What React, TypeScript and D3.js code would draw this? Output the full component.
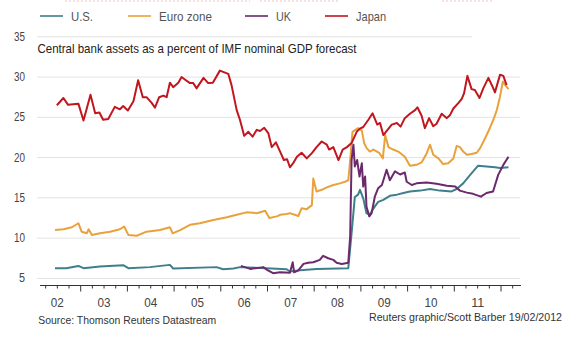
import React from "react";
import * as d3 from "d3";

// [decimal year, percent of GDP]
const japan: [number, number][] = [
  [2002.49, 26.5], [2002.63, 27.4], [2002.73, 26.55], [2002.95, 26.7], [2003.06, 24.6], [2003.21, 27.8],
  [2003.31, 25.5], [2003.4, 25.6], [2003.48, 24.7], [2003.59, 24.8], [2003.73, 26.3], [2003.84, 26.0],
  [2003.91, 26.4], [2004.01, 25.85], [2004.13, 27.0], [2004.23, 29.6], [2004.33, 27.5], [2004.41, 27.5],
  [2004.52, 26.8], [2004.59, 26.2], [2004.68, 27.5], [2004.77, 27.7], [2004.84, 27.5], [2004.91, 29.3],
  [2004.98, 28.75], [2005.09, 29.3], [2005.16, 30.0], [2005.23, 29.7], [2005.34, 29.25], [2005.41, 29.25],
  [2005.48, 28.6], [2005.63, 29.9], [2005.73, 29.25], [2005.83, 29.3], [2005.98, 30.8], [2006.16, 30.4],
  [2006.23, 29.0], [2006.34, 25.9], [2006.41, 24.7], [2006.5, 22.7], [2006.59, 23.2], [2006.68, 22.6],
  [2006.77, 23.45], [2006.84, 23.3], [2006.93, 23.7], [2007.02, 23.0], [2007.09, 21.3], [2007.18, 21.9],
  [2007.27, 20.75], [2007.35, 19.7], [2007.42, 19.8], [2007.48, 18.8], [2007.55, 19.3], [2007.63, 20.1],
  [2007.73, 20.6], [2007.84, 19.9], [2007.95, 20.55], [2008.05, 21.3], [2008.16, 22.0], [2008.27, 21.6],
  [2008.32, 21.0], [2008.41, 21.3], [2008.52, 19.7], [2008.61, 21.0], [2008.7, 21.3], [2008.8, 21.8],
  [2008.91, 23.2], [2008.98, 23.6], [2009.05, 23.8], [2009.16, 24.7], [2009.25, 25.5], [2009.35, 24.1],
  [2009.41, 24.3], [2009.48, 22.8], [2009.57, 23.45], [2009.66, 24.1], [2009.77, 24.3], [2009.85, 23.85],
  [2009.94, 24.9], [2010.05, 25.45], [2010.16, 25.9], [2010.21, 26.25], [2010.3, 25.2], [2010.37, 23.65],
  [2010.46, 24.9], [2010.55, 23.9], [2010.62, 24.2], [2010.73, 25.45], [2010.84, 24.9], [2010.91, 25.3],
  [2010.98, 26.1], [2011.09, 26.8], [2011.16, 27.3], [2011.21, 28.0], [2011.28, 30.15], [2011.37, 28.5],
  [2011.44, 28.4], [2011.54, 27.4], [2011.62, 28.6], [2011.73, 29.9], [2011.82, 28.8], [2011.87, 28.1],
  [2011.98, 30.3], [2012.05, 30.15], [2012.12, 29.0],
];

const euroZone: [number, number][] = [
  [2002.45, 11.0], [2002.63, 11.1], [2002.81, 11.35], [2002.95, 11.85], [2003.02, 10.8], [2003.13, 10.6],
  [2003.17, 11.1], [2003.24, 10.4], [2003.41, 10.6], [2003.63, 10.8], [2003.84, 11.1], [2003.93, 11.45],
  [2004.02, 10.4], [2004.2, 10.3], [2004.41, 10.8], [2004.7, 11.0], [2004.91, 11.35], [2004.97, 10.6],
  [2005.13, 11.0], [2005.34, 11.65], [2005.55, 11.85], [2005.84, 12.25], [2006.13, 12.6], [2006.34, 12.9],
  [2006.55, 13.2], [2006.77, 13.1], [2006.95, 13.4], [2007.04, 12.5], [2007.2, 12.7], [2007.27, 12.9],
  [2007.41, 13.0], [2007.48, 13.1], [2007.66, 12.75], [2007.73, 13.7], [2007.84, 13.6], [2007.95, 14.1],
  [2007.98, 17.4], [2008.05, 15.8], [2008.16, 16.0], [2008.27, 16.3], [2008.41, 16.6], [2008.55, 16.8],
  [2008.66, 17.0], [2008.73, 17.2], [2008.77, 19.7], [2008.82, 23.2], [2008.94, 23.65], [2009.02, 23.35],
  [2009.07, 21.8], [2009.12, 21.2], [2009.19, 20.75], [2009.27, 21.0], [2009.39, 20.6], [2009.47, 19.9],
  [2009.52, 22.8], [2009.59, 21.3], [2009.69, 21.0], [2009.8, 20.75], [2009.94, 20.1], [2010.05, 19.0],
  [2010.19, 19.1], [2010.3, 19.4], [2010.41, 20.55], [2010.48, 21.6], [2010.55, 20.35], [2010.66, 19.9],
  [2010.76, 19.2], [2010.87, 19.3], [2010.98, 19.9], [2011.05, 21.45], [2011.12, 21.3], [2011.19, 20.75],
  [2011.27, 20.35], [2011.37, 20.45], [2011.48, 20.6], [2011.55, 21.15], [2011.66, 22.4], [2011.76, 23.65],
  [2011.85, 24.9], [2011.91, 25.9], [2011.98, 27.6], [2012.04, 29.45], [2012.09, 29.0], [2012.16, 28.5],
];

const us: [number, number][] = [
  [2002.45, 6.27], [2002.69, 6.27], [2002.95, 6.55], [2003.06, 6.27], [2003.41, 6.47], [2003.91, 6.64],
  [2004.02, 6.27], [2004.48, 6.4], [2004.91, 6.68], [2004.98, 6.23], [2005.91, 6.4], [2006.05, 6.14],
  [2006.27, 6.23], [2006.41, 6.4], [2006.98, 6.27], [2007.41, 6.14], [2007.48, 5.85], [2007.7, 6.0],
  [2008.05, 6.18], [2008.73, 6.27], [2008.8, 10.6], [2008.87, 15.1], [2008.94, 15.4], [2008.98, 16.0],
  [2009.05, 14.95], [2009.12, 13.1], [2009.19, 12.9], [2009.27, 13.7], [2009.37, 14.5], [2009.48, 14.75],
  [2009.62, 15.25], [2009.77, 15.4], [2009.91, 15.6], [2010.05, 15.8], [2010.27, 15.9], [2010.48, 16.1],
  [2010.69, 15.9], [2010.94, 15.8], [2011.05, 16.1], [2011.19, 16.8], [2011.34, 17.85], [2011.51, 19.0],
  [2011.69, 18.9], [2011.87, 18.8], [2011.98, 18.7], [2012.16, 18.8],
];

const uk: [number, number][] = [
  [2006.43, 6.55], [2006.63, 6.18], [2006.91, 6.4], [2006.98, 6.1], [2007.12, 5.65], [2007.27, 5.75],
  [2007.48, 5.7], [2007.54, 7.0], [2007.57, 5.75], [2007.66, 6.0], [2007.77, 6.8], [2007.87, 6.95],
  [2007.98, 7.0], [2008.12, 7.3], [2008.19, 7.8], [2008.3, 7.5], [2008.41, 7.3], [2008.48, 6.95],
  [2008.59, 6.8], [2008.73, 6.95], [2008.77, 10.2], [2008.8, 19.7], [2008.84, 21.6], [2008.87, 18.9],
  [2008.92, 19.7], [2008.97, 17.65], [2009.02, 19.3], [2009.05, 16.4], [2009.09, 17.65], [2009.12, 13.9],
  [2009.18, 12.7], [2009.23, 13.1], [2009.3, 15.2], [2009.37, 16.2], [2009.45, 16.6], [2009.55, 18.5],
  [2009.62, 17.2], [2009.73, 18.3], [2009.84, 17.9], [2009.94, 18.15], [2009.98, 17.0], [2010.09, 16.6],
  [2010.19, 16.8], [2010.41, 16.9], [2010.62, 16.75], [2010.84, 16.5], [2011.02, 16.4], [2011.12, 15.9],
  [2011.27, 15.65], [2011.4, 15.5], [2011.57, 15.15], [2011.69, 15.6], [2011.83, 15.8], [2011.94, 17.85],
  [2012.05, 19.1], [2012.16, 20.1],
];

const seriesNames = ["U.S.", "Euro zone", "UK", "Japan"];
const seriesData = [us, euroZone, uk, japan];
const seriesColors = ["#3f7f8c", "#e9a23b", "#6a2a6c", "#c2161f"];

const yTicks = [5, 10, 15, 20, 25, 30, 35];
const yearLabels = ["02", "03", "04", "05", "06", "07", "08", "09", "10", "11"];
const yearStarts = [2002, 2003, 2004, 2005, 2006, 2007, 2008, 2009, 2010, 2011];

const subtitle = "Central bank assets as a percent of IMF nominal GDP forecast";
const sourceText = "Source: Thomson Reuters Datastream";
const creditText = "Reuters graphic/Scott Barber 19/02/2012";

export default function App() {
  const W = 576, H = 340;
  const x = d3.scaleLinear().domain([2002, 2012]).range([34, 501]);
  const y = d3.scaleLinear().domain([5, 35]).range([278.4, 36.8]);
  const line = d3.line<[number, number]>().x((d) => x(d[0])).y((d) => y(d[1]));
  const axisY = 285.5;
  const quarterTicks = d3.range(2002.25, 2012.3, 0.25);
  const font = "'Liberation Sans', Arial, sans-serif";
  const legendX = [40, 128, 245, 325];
  const legendW = [22, 53, 15, 30];

  return (
    <svg width={W} height={H} style={{ position: "absolute", left: 0, top: 0, background: "#fff" }} fontFamily={font}>
      <rect width={W} height={H} fill="#fff" />
      {/* faint dotted remnants at the top edge */}
      <g stroke="#f2c4c4" strokeDasharray="2,2" strokeWidth={1}>
        <line x1={65} x2={250} y1={1} y2={1} />
        <line x1={260} x2={340} y1={1} y2={1} />
        <line x1={442} x2={492} y1={1} y2={1} />
      </g>
      {/* legend */}
      {seriesNames.map((n, i) => (
        <g key={n}>
          <line x1={legendX[i]} x2={legendX[i] + 23} y1={16} y2={16} stroke={seriesColors[i]} strokeWidth={2} opacity={0.8} />
          <text x={legendX[i] + 31} y={20.5} fontSize={13} fill="#555" textLength={legendW[i]} lengthAdjust="spacingAndGlyphs">{n}</text>
        </g>
      ))}
      {/* gridlines */}
      {yTicks.map((t) => (
        <g key={t}>
          <line x1={37} x2={t === 35 ? 472 : 520} y1={y(t)} y2={y(t)} stroke="#e2e2e2" strokeWidth={1} />
          <text x={25} y={y(t) + 4} fontSize={12} fill="#444" textAnchor="end" textLength={t < 10 ? 6 : 11} lengthAdjust="spacingAndGlyphs">{t}</text>
        </g>
      ))}
      <text x={37.5} y={52.5} fontSize={13} fill="#222" textLength={319} lengthAdjust="spacingAndGlyphs">{subtitle}</text>
      {/* series */}
      {seriesData.map((d, i) => (
        <path key={i} d={line(d) || ""} fill="none" stroke={seriesColors[i]} strokeWidth={2} strokeLinejoin="round" />
      ))}
      {/* x axis */}
      <line x1={40} x2={521} y1={axisY} y2={axisY} stroke="#333" strokeWidth={1} />
      {quarterTicks.map((q) => {
        const major = Math.abs(q - Math.round(q)) < 1e-6;
        return <line key={q} x1={x(q)} x2={x(q)} y1={axisY} y2={axisY + (major ? 6 : 3)} stroke="#333" strokeWidth={1} />;
      })}
      {yearLabels.map((l, i) => (
        <text key={l} x={x(yearStarts[i] + 0.5) - 6.5} y={306.5} fontSize={13.5} fill="#444" textLength={13} lengthAdjust="spacingAndGlyphs">{l}</text>
      ))}
      <text x={38.3} y={324} fontSize={11} fill="#333" textLength={178} lengthAdjust="spacingAndGlyphs">{sourceText}</text>
      <text x={369} y={321} fontSize={11} fill="#333" textLength={193} lengthAdjust="spacingAndGlyphs">{creditText}</text>
    </svg>
  );
}
